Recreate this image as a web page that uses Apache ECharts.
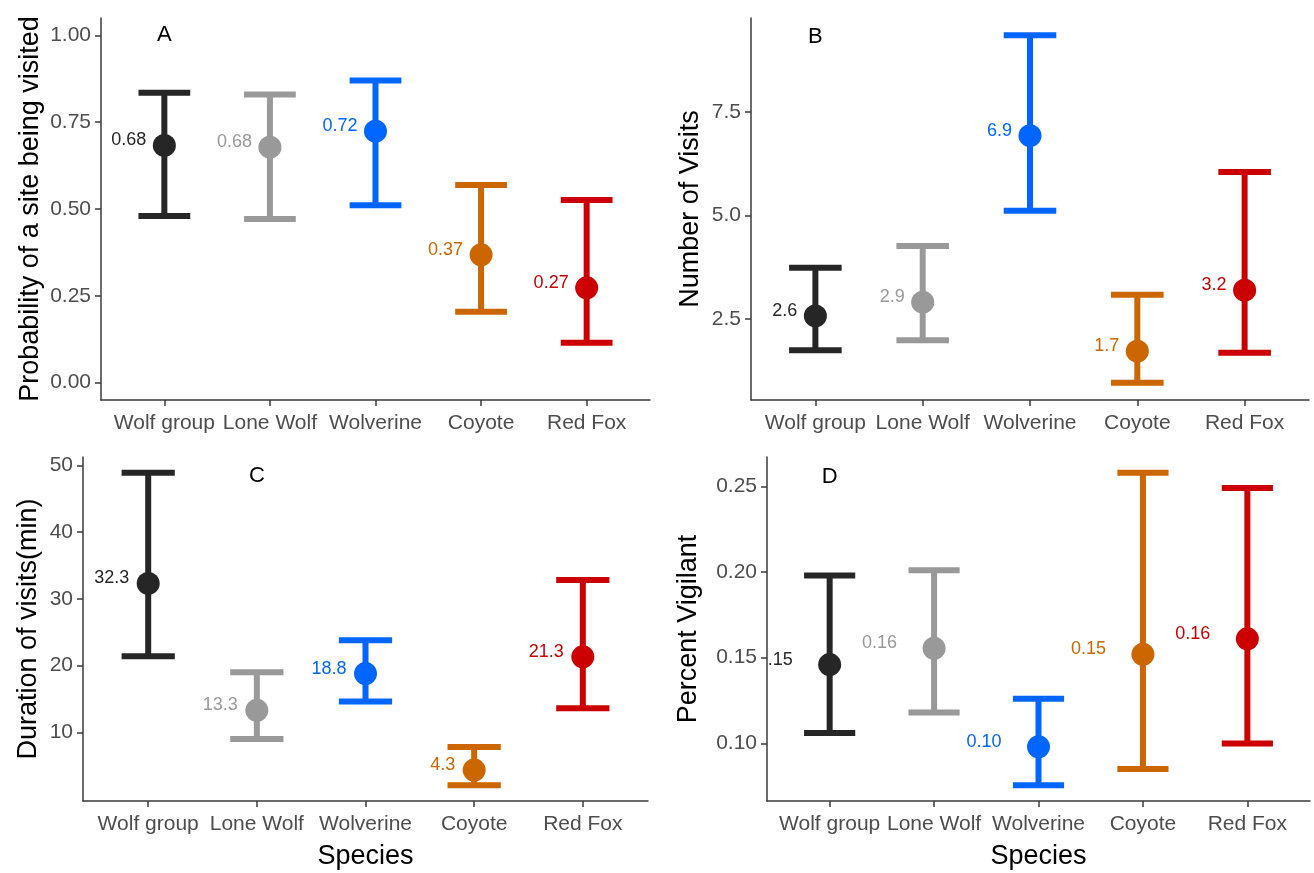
<!DOCTYPE html>
<html>
<head>
<meta charset="utf-8">
<title>Carcass site use by species</title>
<script src="https://cdn.jsdelivr.net/npm/echarts@6/dist/echarts.min.js"></script>
<style>
  html, body { margin: 0; padding: 0; background: #ffffff; }
  #chart { width: 1314px; height: 873px; }
</style>
</head>
<body>
<div id="chart"></div>
<script>
// Species shown on every panel, left to right
const species = ['Wolf group', 'Lone Wolf', 'Wolverine', 'Coyote', 'Red Fox'];
const speciesColors = ['#262626', '#999999', '#0066FF', '#CC6600', '#CC0000'];

// A: probability of a site being visited (estimate, lower and upper limits)
const visitProbMean  = [0.683, 0.678, 0.724, 0.368, 0.273];
const visitProbLower = [0.480, 0.471, 0.511, 0.204, 0.115];
const visitProbUpper = [0.835, 0.830, 0.870, 0.569, 0.526];
const visitProbTicks = [0, 0.25, 0.5, 0.75, 1];

// B: number of visits
const visitsMean  = [2.58, 2.91, 6.93, 1.73, 3.20];
const visitsLower = [1.75, 1.99, 5.12, 0.97, 1.69];
const visitsUpper = [3.74, 4.27, 9.35, 3.09, 6.05];
const visitsTicks = [2.5, 5, 7.5];

// C: duration of visits (min)
const durationMean  = [32.3, 13.3, 18.8, 4.34, 21.3];
const durationLower = [21.4, 9.0, 14.6, 2.05, 13.6];
const durationUpper = [48.9, 19.0, 23.8, 7.8, 32.8];
const durationTicks = [10, 20, 30, 40, 50];

// D: percent of time vigilant
const vigilantMean  = [0.146, 0.1555, 0.098, 0.152, 0.161];
const vigilantLower = [0.106, 0.118, 0.0755, 0.085, 0.100];
const vigilantUpper = [0.198, 0.201, 0.126, 0.258, 0.249];
const vigilantTicks = [0.10, 0.15, 0.20, 0.25];

const FONT = '"Liberation Sans", Arial, "DejaVu Sans", sans-serif';
const AXIS_COLOR = '#3a3a3a';
const TICK_TEXT = '#4D4D4D';

const panels = [
  { tag: 'A', tagAt: [1, 1.0], mean: visitProbMean, lower: visitProbLower, upper: visitProbUpper,
    ticks: visitProbTicks, limits: [0, 1], tickDigits: 2, labelDigits: 2,
    yName: 'Probability of a site being visited', xName: '',
    grid: { left: 101, top: 18, width: 549, height: 382 }, yGap: 57, labelShift: 18 },
  { tag: 'B', tagAt: [1, 9.3], mean: visitsMean, lower: visitsLower, upper: visitsUpper,
    ticks: visitsTicks, limits: null, tickDigits: 1, labelDigits: 1,
    yName: 'Number of Visits', xName: '',
    grid: { left: 751, top: 18, width: 558, height: 382 }, yGap: 47, labelShift: 18 },
  { tag: 'C', tagAt: [2, 48.4], mean: durationMean, lower: durationLower, upper: durationUpper,
    ticks: durationTicks, limits: null, tickDigits: 0, labelDigits: 1,
    yName: 'Duration of visits(min)', xName: 'Species',
    grid: { left: 83, top: 457, width: 565, height: 344 }, yGap: 41, labelShift: 19 },
  { tag: 'D', tagAt: [1, 0.2556], mean: vigilantMean, lower: vigilantLower, upper: vigilantUpper,
    ticks: vigilantTicks, limits: null, tickDigits: 2, labelDigits: 2,
    yName: 'Percent Vigilant', xName: 'Species',
    grid: { left: 767, top: 457, width: 543, height: 344 }, yGap: 65, labelShift: 37 }
];

// ggplot-like 5% padding around the data (or the fixed limits)
function paddedRange(p) {
  let lo, hi;
  if (p.limits) { lo = p.limits[0]; hi = p.limits[1]; }
  else { lo = Math.min(...p.lower); hi = Math.max(...p.upper); }
  const pad = (hi - lo) * 0.05;
  return [lo - pad, hi + pad];
}

function errorBarItem(params, api) {
  const x = api.value(0);
  const top = api.coord([x, api.value(2)]);
  const bot = api.coord([x, api.value(1)]);
  const half = api.size([1, 0])[0] * 0.245;
  const style = { stroke: speciesColors[api.value(3)], lineWidth: 6, lineCap: 'butt' };
  return {
    type: 'group',
    children: [
      { type: 'line', shape: { x1: top[0], y1: top[1], x2: bot[0], y2: bot[1] }, style },
      { type: 'line', shape: { x1: top[0] - half, y1: top[1], x2: top[0] + half, y2: top[1] }, style },
      { type: 'line', shape: { x1: bot[0] - half, y1: bot[1], x2: bot[0] + half, y2: bot[1] }, style }
    ]
  };
}

const grids = [], xAxes = [], yAxes = [], series = [];

panels.forEach((p, k) => {
  grids.push(Object.assign({ containLabel: false }, p.grid));
  const range = paddedRange(p);

  xAxes.push({
    type: 'value', gridIndex: k, min: 0.4, max: 5.6,
    name: p.xName, nameLocation: 'middle', nameGap: 42,
    nameTextStyle: { fontFamily: FONT, fontSize: 27, color: '#000' },
    axisLine: { show: true, onZero: false, lineStyle: { color: AXIS_COLOR, width: 1.5 } },
    axisTick: { show: true, length: 6, lineStyle: { color: AXIS_COLOR, width: 1.5 },
                customValues: [1, 2, 3, 4, 5] },
    axisLabel: { customValues: [1, 2, 3, 4, 5], margin: 13,
                 formatter: v => species[Math.round(v) - 1],
                 fontFamily: FONT, fontSize: 21, color: TICK_TEXT },
    splitLine: { show: false }
  });

  yAxes.push({
    type: 'value', gridIndex: k, min: range[0], max: range[1],
    name: p.yName, nameLocation: 'middle', nameGap: p.yGap, nameRotate: 90,
    nameTextStyle: { fontFamily: FONT, fontSize: 27, color: '#000' },
    axisLine: { show: true, onZero: false, lineStyle: { color: AXIS_COLOR, width: 1.5 } },
    axisTick: { show: true, length: 6, lineStyle: { color: AXIS_COLOR, width: 1.5 },
                customValues: p.ticks },
    axisLabel: { customValues: p.ticks, margin: 10,
                 formatter: v => v.toFixed(p.tickDigits),
                 fontFamily: FONT, fontSize: 21, color: TICK_TEXT },
    splitLine: { show: false }
  });

  const bars = species.map((s, i) => [i + 1, p.lower[i], p.upper[i], i]);
  const points = species.map((s, i) => ({
    value: [i + 1, p.mean[i]],
    itemStyle: { color: speciesColors[i], opacity: 1 }
  }));
  const labels = species.map((s, i) => [i + 1, p.mean[i], i]);

  series.push({
    type: 'custom', xAxisIndex: k, yAxisIndex: k, z: 2,
    renderItem: errorBarItem, data: bars, silent: true
  });
  series.push({
    type: 'scatter', xAxisIndex: k, yAxisIndex: k, z: 3,
    symbol: 'circle', symbolSize: 23, data: points, silent: true,
    itemStyle: { opacity: 1 }
  });
  // value labels, clipped to the plotting area
  series.push({
    type: 'custom', xAxisIndex: k, yAxisIndex: k, z: 4, clip: true, silent: true,
    data: labels,
    renderItem: (params, api) => {
      const c = api.coord([api.value(0), api.value(1)]);
      return {
        type: 'text', x: c[0] - p.labelShift, y: c[1] - 5,
        style: {
          text: api.value(1).toFixed(p.labelDigits),
          fill: speciesColors[api.value(2)],
          font: '18px ' + FONT, align: 'right', verticalAlign: 'middle'
        }
      };
    }
  });
  // panel letter
  series.push({
    type: 'custom', xAxisIndex: k, yAxisIndex: k, z: 4, silent: true,
    data: [p.tagAt],
    renderItem: (params, api) => {
      const c = api.coord([api.value(0), api.value(1)]);
      return {
        type: 'text', x: c[0], y: c[1],
        style: { text: p.tag, fill: '#000', font: '22px ' + FONT,
                 align: 'center', verticalAlign: 'middle' }
      };
    }
  });
});

const chart = echarts.init(document.getElementById('chart'), null, { renderer: 'canvas' });
chart.setOption({
  animation: false,
  backgroundColor: '#ffffff',
  grid: grids,
  xAxis: xAxes,
  yAxis: yAxes,
  series: series
});
</script>
</body>
</html>
